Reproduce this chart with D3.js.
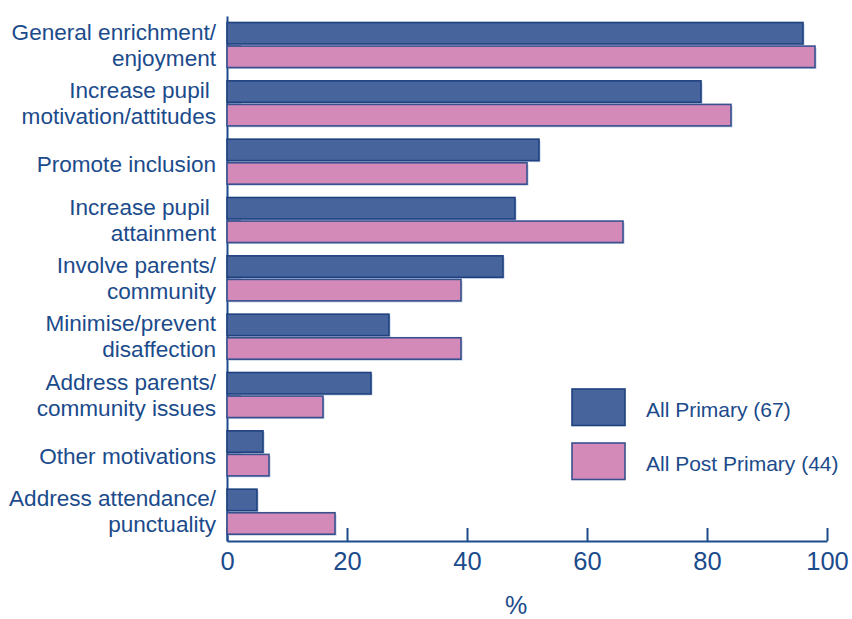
<!DOCTYPE html>
<html>
<head>
<meta charset="utf-8">
<script src="https://cdn.jsdelivr.net/npm/d3@7"></script>
<style>
  html, body { margin: 0; padding: 0; background: #ffffff; }
  svg { display: block; font-family: "Liberation Sans", Arial, Helvetica, sans-serif; }
</style>
</head>
<body>
<svg id="chart" width="852" height="619"></svg>
<script>
// Motivations for running the activity, % of schools
const categories = [
  "General enrichment/\nenjoyment",
  "Increase pupil \nmotivation/attitudes",
  "Promote inclusion",
  "Increase pupil \nattainment",
  "Involve parents/\ncommunity",
  "Minimise/prevent\ndisaffection",
  "Address parents/\ncommunity issues",
  "Other motivations",
  "Address attendance/\npunctuality"
];
const seriesNames = ["All Primary (67)", "All Post Primary (44)"];
const primaryValues = [96, 79, 52, 48, 46, 27, 24, 6, 5];
const postPrimaryValues = [98, 84, 50, 66, 39, 39, 16, 7, 18];
const xTicks = [0, 20, 40, 60, 80, 100];
const xTitle = "%";

const ink = "#1b4b8b";
const fills = ["#47649c", "#d48ab8"];
const strokes = ["#1f417f", "#38508e"];

const svg = d3.select("#chart");

const x = d3.scaleLinear().domain([0, 100]).range([227, 827]);
const y = d3.scaleBand().domain(categories).range([16, 541]).padding(0);
const sub = d3.scaleBand().domain([0, 1])
  .range([6.5, y.bandwidth() - 6.8]).paddingInner(0.09);

// Axes
const xAxis = d3.axisBottom(x).tickValues(xTicks).tickSizeInner(-13).tickSizeOuter(0).tickPadding(12);
const gx = svg.append("g").attr("transform", "translate(0,541)").call(xAxis);
gx.select(".domain").attr("stroke", ink).attr("stroke-width", 2);
gx.selectAll(".tick line").attr("stroke", ink).attr("stroke-width", 2);
gx.selectAll(".tick text")
  .attr("fill", ink)
  .attr("font-size", 25.5)
  .attr("font-family", "Liberation Sans, Arial, sans-serif")
  .attr("y", 29).attr("dy", 0);

const yAxis = d3.axisLeft(y).tickSizeInner(-14).tickSizeOuter(0).tickFormat("");
const gy = svg.append("g").attr("transform", "translate(227,0)").call(yAxis);
gy.select(".domain").attr("stroke", ink).attr("stroke-width", 2);
gy.selectAll(".tick line").attr("stroke", ink).attr("stroke-width", 2);

// Bars
const rows = categories.map((c, i) => ({ c, v: [primaryValues[i], postPrimaryValues[i]] }));
const groups = svg.append("g").selectAll("g").data(rows).join("g")
  .attr("transform", d => `translate(0,${y(d.c)})`);

const cells = groups.selectAll("g").data(d => d.v.map((v, k) => ({ v, k }))).join("g");
// soft drop shadow under each bar
cells.append("rect")
  .attr("x", x(0) + 1.5)
  .attr("y", d => sub(d.k) + 1.5)
  .attr("width", d => x(d.v) - x(0))
  .attr("height", sub.bandwidth())
  .attr("fill", "#bfcde3");
cells.append("rect")
  .attr("x", x(0))
  .attr("y", d => sub(d.k))
  .attr("width", d => x(d.v) - x(0))
  .attr("height", sub.bandwidth())
  .attr("fill", d => fills[d.k])
  .attr("stroke", d => strokes[d.k])
  .attr("stroke-width", 1.6);

// Category labels (right aligned, up to two lines, slightly wide type)
const labels = svg.append("g")
  .attr("fill", ink)
  .attr("font-size", 21.5)
  .attr("text-anchor", "end")
  .style("white-space", "pre");
categories.forEach(c => {
  const lines = c.split("\n");
  const cy = y(c) + y.bandwidth() / 2;
  const lh = 26;
  const t = labels.append("text")
    .attr("transform", "translate(216,0) scale(1.05,1)");
  lines.forEach((ln, j) => {
    const base = cy + (j - (lines.length - 1) / 2) * lh + 7.5 + (lines.length === 1 ? 3 : 0);
    t.append("tspan").attr("x", 0).attr("y", base).text(ln);
  });
});

// Legend
const legend = svg.append("g");
seriesNames.forEach((name, k) => {
  const ly = 389 + k * 54;
  legend.append("rect")
    .attr("x", 572).attr("y", ly).attr("width", 53).attr("height", 36.5)
    .attr("fill", fills[k]).attr("stroke", strokes[k]).attr("stroke-width", 1.6);
  legend.append("text")
    .attr("x", 646).attr("y", ly + 28)
    .attr("fill", ink).attr("font-size", 21)
    .text(name);
});

// Axis title
svg.append("text")
  .attr("x", 516).attr("y", 614)
  .attr("text-anchor", "middle")
  .attr("fill", ink).attr("font-size", 25)
  .text(xTitle);
</script>
</body>
</html>
